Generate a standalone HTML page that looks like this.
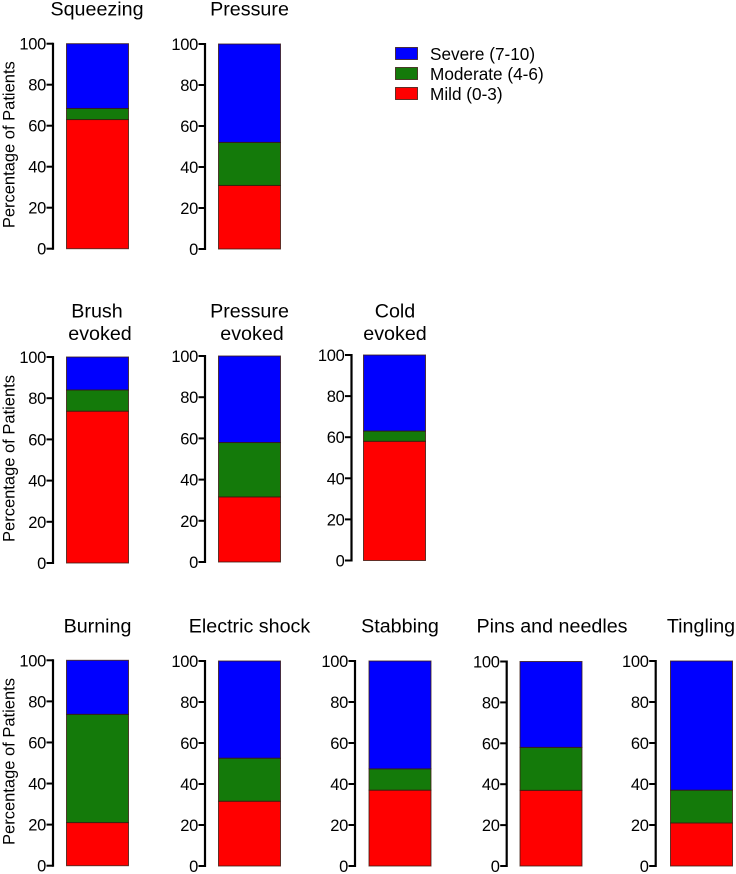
<!DOCTYPE html>
<html lang="en">
<head>
<meta charset="utf-8">
<title>Pain severity by symptom</title>
<style>
html,body{margin:0;padding:0;background:#fff;}
svg{display:block;font-family:"Liberation Sans",Arial,sans-serif;fill:#000;}
</style>
</head>
<body>
<svg id="figure" width="736" height="874" viewBox="0 0 736 874" xmlns="http://www.w3.org/2000/svg"></svg>
<script>
// Data: percentage of patients per severity band, per panel
const panelTitles = [
  ["Squeezing"], ["Pressure"],
  ["Brush", "evoked"], ["Pressure", "evoked"], ["Cold", "evoked"],
  ["Burning"], ["Electric shock"], ["Stabbing"], ["Pins and needles"], ["Tingling"]
];
const mildValues     = [63, 31, 73.7, 31.6, 58, 21, 31.6, 37, 37, 21];
const moderateValues = [5.4, 21, 10.3, 26.4, 5, 52.7, 21, 10.4, 21, 16];
const severeValues   = [31.6, 48, 16, 42, 37, 26.3, 47.4, 52.6, 42, 63];
const tickLabels = [0, 20, 40, 60, 80, 100];
const seriesNames = ["Severe (7-10)", "Moderate (4-6)", "Mild (0-3)"];
const yAxisTitle = "Percentage of Patients";

// Layout
const panelLayout = [
  {axis:53,   top:43.7,  bottom:248.7, bar:66.5,  titleY:[15.5],      yTitle:true},
  {axis:205,  top:44,    bottom:249,   bar:218.5, titleY:[15.5],      yTitle:false},
  {axis:53,   top:357,   bottom:563,   bar:66.5,  titleY:[317.5,340], yTitle:true},
  {axis:205,  top:356,   bottom:562,   bar:218.5, titleY:[317.5,340], yTitle:false},
  {axis:351.5,top:355,   bottom:560.5, bar:363.5, titleY:[317.5,340], yTitle:false},
  {axis:53,   top:660.3, bottom:865.7, bar:66.5,  titleY:[632.5],     yTitle:true},
  {axis:205,  top:661,   bottom:866,   bar:218.5, titleY:[632.5],     yTitle:false},
  {axis:355,  top:661,   bottom:866,   bar:369,   titleY:[632.5],     yTitle:false},
  {axis:506.7,top:661.5, bottom:866,   bar:520,   titleY:[632.5],     yTitle:false},
  {axis:655.7,top:661,   bottom:866,   bar:670.5, titleY:[632.5],     yTitle:false}
];
const titleCentres = [[97], [249.5], [97,100], [249.5,252], [395,395], [97.5], [249.5], [400], [552], [701]];
const BAR_WIDTH = 62;
const colors = {severe:"#0000ff", moderate:"#147a0a", mild:"#ff0000"};

const svg = document.getElementById("figure");
const NS = "http://www.w3.org/2000/svg";
function make(tag, attrs, parent) {
  const el = document.createElementNS(NS, tag);
  for (const k in attrs) el.setAttribute(k, attrs[k]);
  parent.appendChild(el);
  return el;
}
function yScale(layout, v) {
  return layout.bottom - (v / 100) * (layout.bottom - layout.top);
}

panelLayout.forEach(function (layout, i) {
  const g = make("g", {}, svg);
  
  

  // Title
  panelTitles[i].forEach(function (line, j) {
    const t = make("text", {x: titleCentres[i][j], y: layout.titleY[j], "text-anchor": "middle", "font-size": 19.7}, g);
    t.textContent = line;
    
    
  });

  // Y axis line
  const axisLine = make("line", {x1: layout.axis, x2: layout.axis, y1: yScale(layout, 100) - 1, y2: yScale(layout, 0) + 1, stroke: "#000", "stroke-width": 2.2}, g);
  
  

  // Ticks and tick labels
  tickLabels.forEach(function (v) {
    const y = yScale(layout, v);
    const tick = make("line", {x1: layout.axis - 6.5, x2: layout.axis, y1: y, y2: y, stroke: "#000", "stroke-width": 2}, g);
    
    
    const label = make("text", {x: layout.axis - 7, y: y + 6, "text-anchor": "end", "font-size": 16.5, "letter-spacing": -0.3}, g);
    label.textContent = v;
    
    
  });

  // Y axis title
  if (layout.yTitle) {
    const mid = (layout.top + layout.bottom) / 2 - 1.5;
    const yt = make("text", {x: 0, y: 0, transform: "translate(14.5," + mid + ") rotate(-90)", "text-anchor": "middle", "font-size": 16.5}, g);
    yt.textContent = yAxisTitle;
    
    
  }

  // Stacked bar segments
  const stack = [
    {key: "mild", value: mildValues[i]},
    {key: "moderate", value: moderateValues[i]},
    {key: "severe", value: severeValues[i]}
  ];
  let base = 0;
  stack.forEach(function (seg) {
    const y0 = yScale(layout, base);
    const y1 = yScale(layout, base + seg.value);
    const rect = make("rect", {x: layout.bar, y: y1, width: BAR_WIDTH, height: y0 - y1, fill: colors[seg.key], stroke: "#3a1a10", "stroke-width": 1, "stroke-opacity": 0.8}, g);
    
    
    base += seg.value;
  });
});

// Legend
const legend = make("g", {}, svg);


const legendColors = [colors.severe, colors.moderate, colors.mild];
seriesNames.forEach(function (name, i) {
  const y = 47.5 + i * 20;
  const swatch = make("rect", {x: 395.5, y: y, width: 22, height: 12, fill: legendColors[i], stroke: "#3a1a10", "stroke-width": 1, "stroke-opacity": 0.8}, legend);
  
  
  const label = make("text", {x: 430, y: y + 12.5, "font-size": 17.2}, legend);
  label.textContent = name;
  
  
});
</script>
</body>
</html>
